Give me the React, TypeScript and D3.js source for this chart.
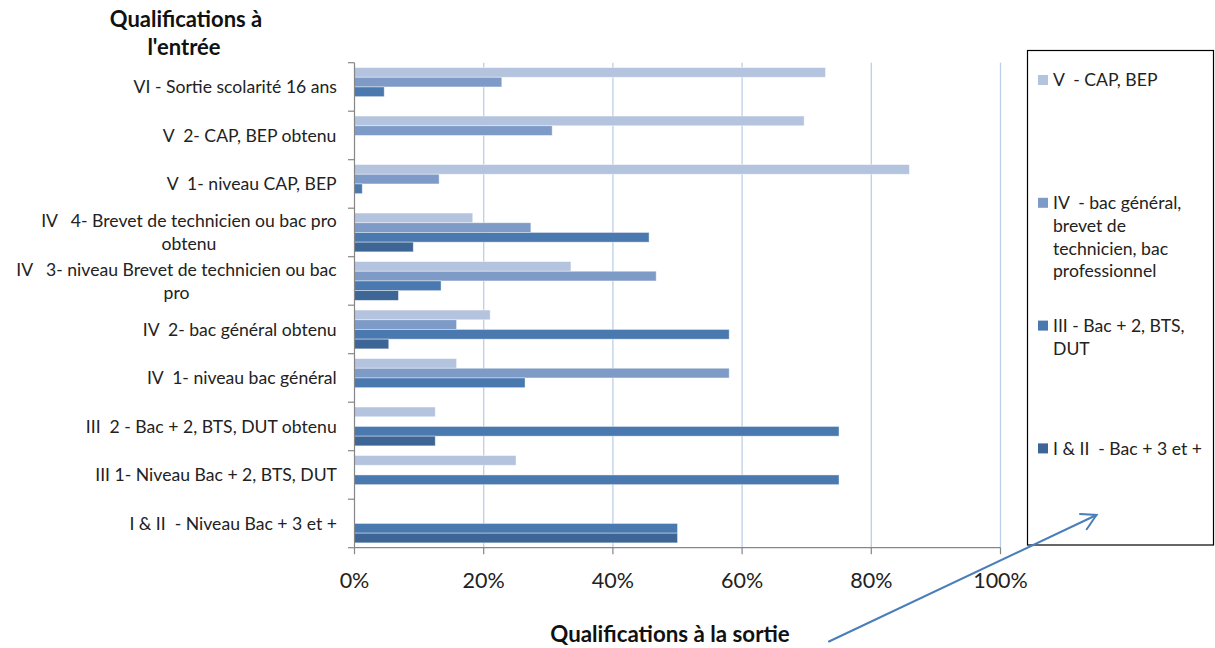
import React from "react";
import * as d3 from "d3";

const categories: string[][] = [
  ["VI - Sortie scolarité 16 ans"],
  ["V  2- CAP, BEP obtenu"],
  ["V  1- niveau CAP, BEP"],
  ["IV   4- Brevet de technicien ou bac pro", "obtenu"],
  ["IV   3- niveau Brevet de technicien ou bac", "pro"],
  ["IV  2- bac général obtenu"],
  ["IV  1- niveau bac général"],
  ["III  2 - Bac + 2, BTS, DUT obtenu"],
  ["III 1- Niveau Bac + 2, BTS, DUT"],
  ["I & II  - Niveau Bac + 3 et +"],
];

const seriesV = [72.9, 69.6, 85.9, 18.3, 33.5, 21.0, 15.8, 12.5, 25.0, 0];
const seriesIV = [22.8, 30.6, 13.1, 27.3, 46.7, 15.8, 58.0, 0, 0, 0];
const seriesIII = [4.6, 0, 1.2, 45.6, 13.4, 58.0, 26.4, 75.0, 75.0, 50.0];
const seriesI_II = [0, 0, 0, 9.1, 6.8, 5.3, 0, 12.5, 0, 50.0];

const seriesNames: string[][] = [
  ["V  - CAP, BEP"],
  ["IV  - bac général,", "brevet de", "technicien, bac", "professionnel"],
  ["III - Bac + 2, BTS,", "DUT"],
  ["I & II  - Bac + 3 et +"],
];
const seriesColors = ["#B4C3DE", "#7E9BC8", "#4A79B0", "#3D6595"];
const xTicks = [0, 20, 40, 60, 80, 100];

const FONT = "Lato, 'Open Sans', sans-serif";
const LABEL_SIZE = 17.6;

function measure(text: string, size: number, weight = "normal"): number {
  const c = document.createElement("canvas");
  const ctx = c.getContext("2d");
  if (!ctx) return text.length * size * 0.5;
  ctx.font = `${weight} ${size}px Lato`;
  return ctx.measureText(text).width;
}

export default function App() {
  const W = 1215, H = 648;
  const left = 354.5, right = 1000.5, top = 62.7, bottom = 547.7;
  const x = d3.scaleLinear().domain([0, 100]).range([left, right]);
  const keys = categories.map((_, i) => String(i));
  const y = d3.scaleBand().domain(keys).range([top, bottom]);
  const bw = y.bandwidth();
  const sub = d3.scaleBand().domain(["0", "1", "2", "3"]).range([bw * 0.1, bw * 0.9]);
  const allSeries = [seriesV, seriesIV, seriesIII, seriesI_II];
  const lineH = 23.3;
  const labelRight = 337;

  return (
    <svg width={W} height={H} style={{ position: "fixed", left: 0, top: 0, background: "#fff" }} fontFamily={FONT}>
      <rect x={0} y={0} width={W} height={H} fill="#fff" />
      {/* gridlines */}
      {xTicks.filter((t) => t > 0).map((t) => (
        <line key={"g" + t} x1={x(t)} x2={x(t)} y1={top} y2={bottom} stroke="#BCCFE6" strokeWidth={1.3} />
      ))}
      {/* bars */}
      {allSeries.map((s, si) =>
        s.map((v, ci) =>
          v > 0 ? (
            <rect
              key={`b${si}-${ci}`}
              x={x(0)}
              y={(y(String(ci)) as number) + (sub(String(si)) as number)}
              width={x(v) - x(0)}
              height={sub.bandwidth()}
              fill={seriesColors[si]}
              stroke="#ffffff"
              strokeOpacity={0.5}
              strokeWidth={0.8}
            />
          ) : null
        )
      )}
      {/* y axis */}
      <line x1={left} x2={left} y1={top} y2={bottom} stroke="#868686" strokeWidth={1.2} />
      {[...keys.map((k) => y(k) as number), bottom].map((yy, i) => (
        <line key={"yt" + i} x1={left - 6.5} x2={left} y1={yy} y2={yy} stroke="#868686" strokeWidth={1.2} />
      ))}
      {/* x axis */}
      <line x1={left} x2={right} y1={bottom} y2={bottom} stroke="#868686" strokeWidth={1.2} />
      {xTicks.map((t) => (
        <g key={"xt" + t}>
          <line x1={x(t)} x2={x(t)} y1={bottom} y2={bottom + 6.5} stroke="#868686" strokeWidth={1.2} />
          <text x={x(t)} y={587.5} textAnchor="middle" fontSize={21.5} fill="#222">
            {t + "%"}
          </text>
        </g>
      ))}
      {/* category labels */}
      {categories.map((lines, ci) => {
        const maxW = Math.max(...lines.map((l) => measure(l, LABEL_SIZE)));
        const cx = labelRight - maxW / 2;
        const cy = (y(String(ci)) as number) + bw / 2;
        const y0 = cy - ((lines.length - 1) * lineH) / 2;
        return (
          <text key={"cl" + ci} fontSize={LABEL_SIZE} fill="#222" textAnchor="middle" style={{ whiteSpace: "pre" }}>
            {lines.map((l, li) => (
              <tspan key={li} x={cx} y={y0 + li * lineH + LABEL_SIZE * 0.36}>
                {l}
              </tspan>
            ))}
          </text>
        );
      })}
      {/* top title */}
      <text fontSize={22} fontWeight="bold" fill="#111" textAnchor="middle">
        <tspan x={186} y={27}>Qualifications à</tspan>
        <tspan x={184} y={54.5}>l'entrée</tspan>
      </text>
      {/* bottom title */}
      <text x={670} y={642} fontSize={22.3} fontWeight="bold" fill="#111" textAnchor="middle">
        Qualifications à la sortie
      </text>
      {/* legend */}
      <rect x={1027.5} y={50.5} width={186} height={494.5} fill="none" stroke="#000" strokeWidth={1.2} />
      {seriesNames.map((lines, si) => {
        const cy = 80 + si * 122.8;
        return (
          <g key={"lg" + si}>
            <rect x={1038} y={cy - 5} width={10} height={10} fill={seriesColors[si]} />
            <text fontSize={LABEL_SIZE} fill="#222" style={{ whiteSpace: "pre" }}>
              {lines.map((l, li) => (
                <tspan key={li} x={1053} y={cy + li * 22.7 + LABEL_SIZE * 0.36}>
                  {l}
                </tspan>
              ))}
            </text>
          </g>
        );
      })}
      {/* arrow */}
      <g stroke="#4A7EBB" strokeWidth={2} fill="none" strokeLinecap="round">
        <line x1={829} y1={641.5} x2={1096.5} y2={515} />
        <polyline points="1080,514 1096.5,515 1086.7,529.3" />
      </g>
    </svg>
  );
}
